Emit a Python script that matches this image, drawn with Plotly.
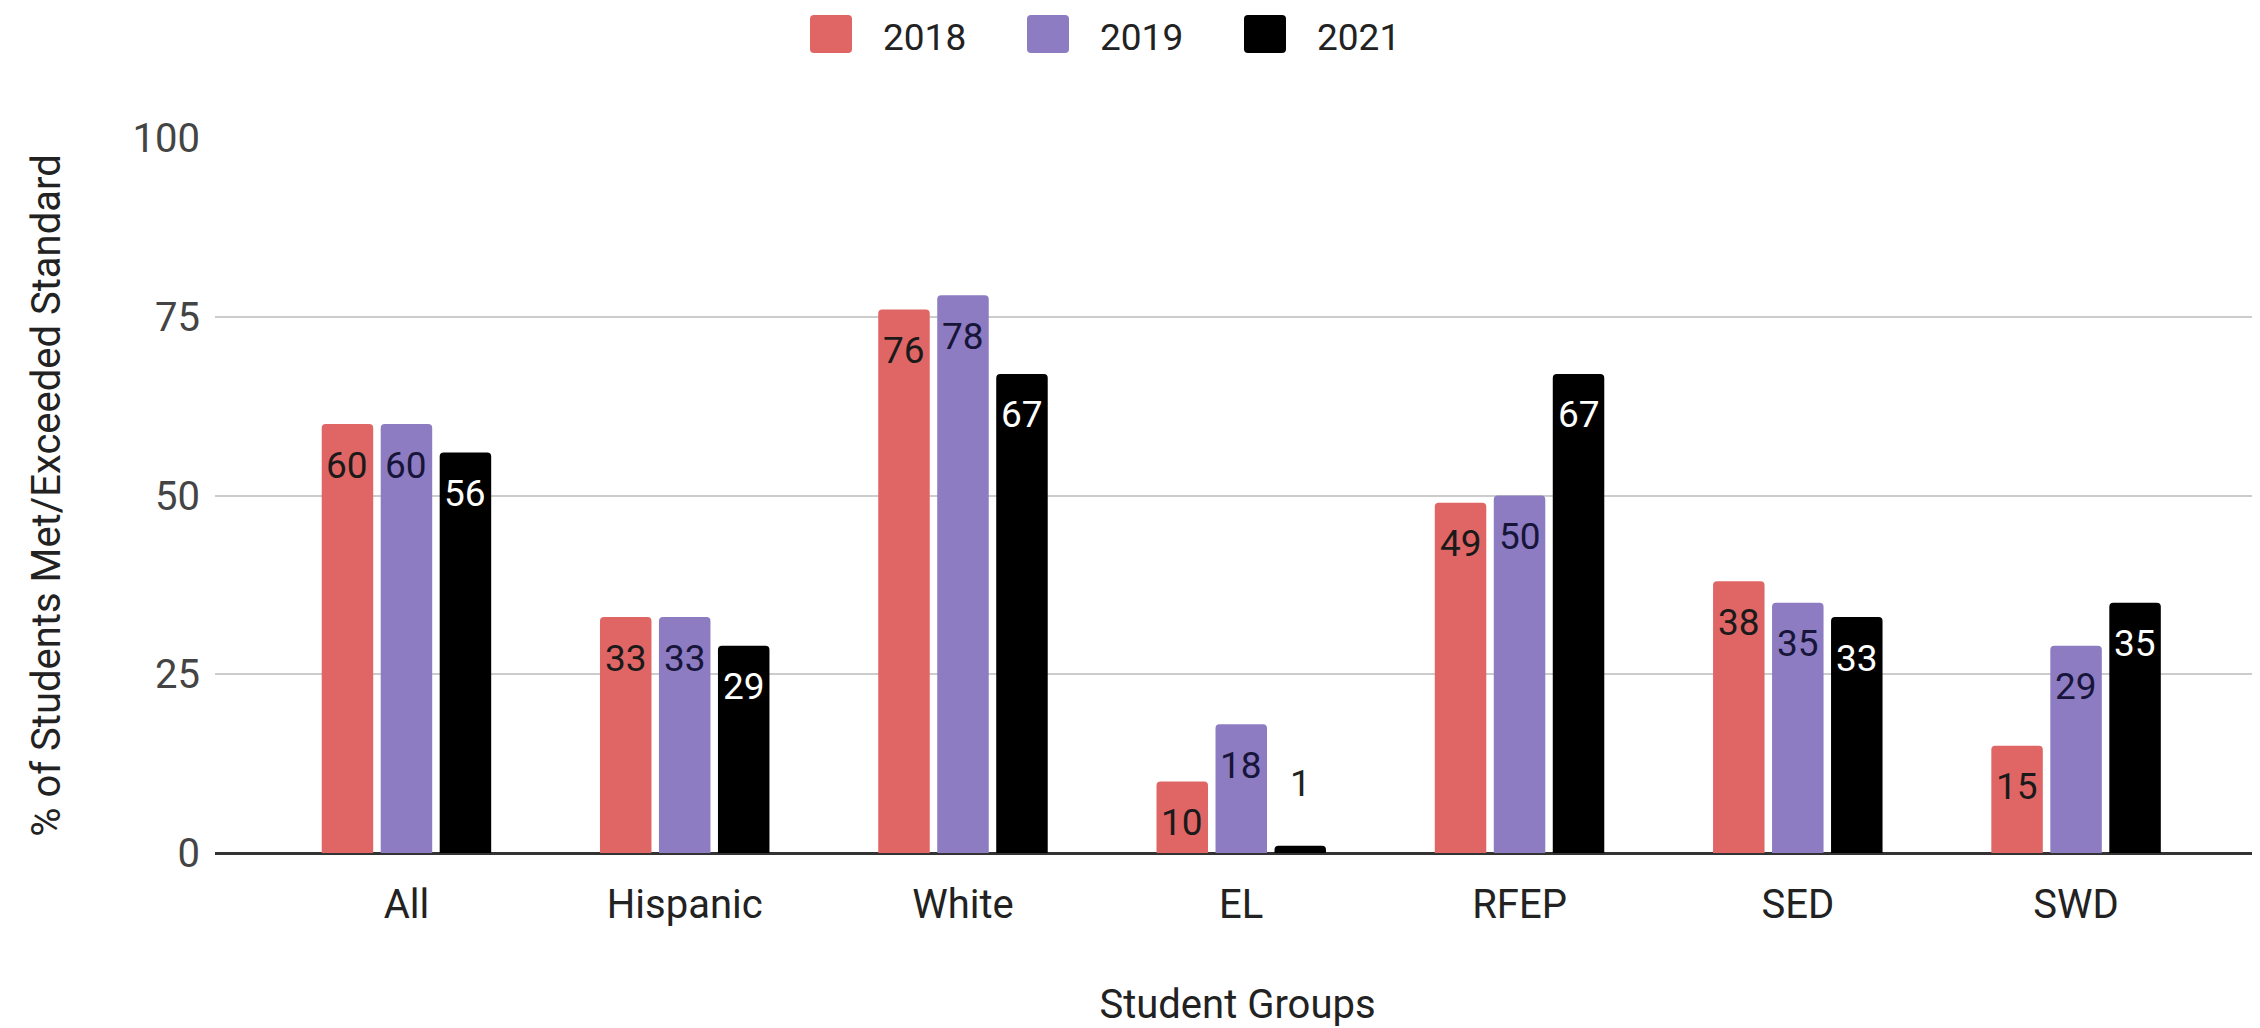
import plotly.graph_objects as go

# ---- data ----
categories = ["All", "Hispanic", "White", "EL", "RFEP", "SED", "SWD"]
series_names = ["2018", "2019", "2021"]
values_2018 = [60, 33, 76, 10, 49, 38, 15]
values_2019 = [60, 33, 78, 18, 50, 35, 29]
values_2021 = [56, 29, 67, 1, 67, 33, 35]
y_ticks = [0, 25, 50, 75, 100]

# ---- styles / layout constants ----
bar_colors = ["#E06666", "#8E7CC3", "#000000"]
label_colors = ["#1a1a1a", "#17153a", "#ffffff"]
FONT = "Roboto"
# page body has an 8px margin, so the figure is drawn 8px smaller
W, H = 2252, 1020
ML, MR, MT, MB = 207, 0, 130, 175
X_RANGE = [-0.688, 6.661]
BARGAP, BARGROUPGAP = 0.364, 0.127
plot_w = W - ML - MR
plot_h = H - MT - MB

all_values = [values_2018, values_2019, values_2021]

fig = go.Figure()
for name, vals, col in zip(series_names, all_values, bar_colors):
    fig.add_trace(go.Bar(
        name=name, x=categories, y=vals,
        marker=dict(color=col, line=dict(width=0)),
        hoverinfo="x+y+name",
    ))

# data labels (from the data arrays, offset to each bar in its group)
px_per_cat = plot_w / (X_RANGE[1] - X_RANGE[0])
slot_px = px_per_cat * (1 - BARGAP) / len(series_names)
annotations = []
shapes = []
for si, vals in enumerate(all_values):
    for cat, v in zip(categories, vals):
        inside = v >= 8
        annotations.append(dict(
            x=cat, y=v, xref="x", yref="y", text=str(v), showarrow=False,
            xshift=(si - 1) * slot_px,
            yshift=-41 if inside else 62,
            font=dict(family=FONT, size=37,
                      color=label_colors[si] if inside else "#222222"),
        ))

# legend drawn as swatches + text at the top
LEG_X0, LEG_STEP, SW, SH, LEG_YC, TEXT_DX, R = 802, 217, 42, 38, 26, 71, 4


def px_to_paper_x(px):
    return (px - ML) / plot_w


def px_to_paper_y(py):
    return (H - MB - py) / plot_h


for si, (name, col) in enumerate(zip(series_names, bar_colors)):
    x0 = LEG_X0 + si * LEG_STEP
    x1 = x0 + SW
    y0 = LEG_YC - SH / 2
    y1 = LEG_YC + SH / 2
    X = px_to_paper_x
    Y = px_to_paper_y
    path = (
        f"M {X(x0 + R)} {Y(y0)} L {X(x1 - R)} {Y(y0)} "
        f"Q {X(x1)} {Y(y0)} {X(x1)} {Y(y0 + R)} L {X(x1)} {Y(y1 - R)} "
        f"Q {X(x1)} {Y(y1)} {X(x1 - R)} {Y(y1)} L {X(x0 + R)} {Y(y1)} "
        f"Q {X(x0)} {Y(y1)} {X(x0)} {Y(y1 - R)} L {X(x0)} {Y(y0 + R)} "
        f"Q {X(x0)} {Y(y0)} {X(x0 + R)} {Y(y0)} Z"
    )
    shapes.append(dict(
        type="path", xref="paper", yref="paper", path=path,
        fillcolor=col, line=dict(width=0), layer="above",
    ))
    annotations.append(dict(
        x=X(x0 + TEXT_DX), y=Y(LEG_YC + 3),
        xref="paper", yref="paper", xanchor="left", yanchor="middle",
        text=name, showarrow=False,
        font=dict(family=FONT, size=37, color="#222222"),
    ))

fig.update_layout(
    width=W, height=H,
    margin=dict(l=ML, r=MR, t=MT, b=MB, pad=0),
    paper_bgcolor="white", plot_bgcolor="white",
    font=dict(family=FONT, size=37, color="#222222"),
    barmode="group", bargap=BARGAP, bargroupgap=BARGROUPGAP,
    barcornerradius=4,
    showlegend=False,
    annotations=annotations,
    shapes=shapes,
    xaxis=dict(
        range=X_RANGE, showgrid=False, zeroline=False, showline=False,
        ticks="", ticklabelstandoff=24,
        tickfont=dict(family=FONT, size=40, color="#222222"),
        title=dict(text="Student Groups", standoff=62,
                   font=dict(family=FONT, size=40, color="#222222")),
        automargin=False,
    ),
    yaxis=dict(
        range=[0, 100], tickvals=y_ticks, showgrid=True,
        gridcolor="#cccccc", gridwidth=2,
        zeroline=True, zerolinecolor="#333333", zerolinewidth=3,
        showline=False, ticks="", ticklabelstandoff=14,
        tickfont=dict(family=FONT, size=40, color="#444444"),
        title=dict(text="% of Students Met/Exceeded Standard", standoff=59,
                   font=dict(family=FONT, size=40, color="#222222")),
        automargin=False,
    ),
)

fig.write_html("out.html")
